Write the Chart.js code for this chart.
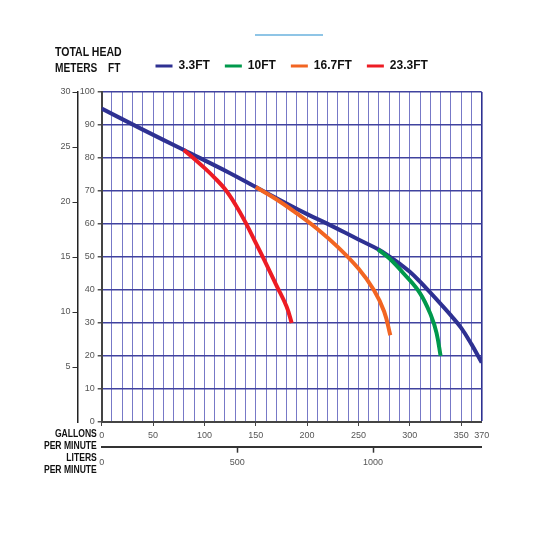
<!DOCTYPE html>
<html>
<head>
<meta charset="utf-8">
<script src="https://cdn.jsdelivr.net/npm/chart.js@4/dist/chart.umd.min.js"></script>
<style>
html,body{margin:0;padding:0;background:#fff;}
#wrap{position:relative;width:533px;height:533px;overflow:hidden;}
#c{position:absolute;left:0;top:0;}
.t{position:absolute;font-family:"Liberation Sans",Arial,sans-serif;font-weight:bold;color:#111;white-space:nowrap;}
.l{transform:scaleX(0.78);transform-origin:left top;}
.r{transform:scaleX(0.78);transform-origin:right top;}
</style>
</head>
<body>
<div id="wrap">
<canvas id="c" width="533" height="533"></canvas>
<div style="position:absolute;left:255px;top:34px;width:68px;height:1.5px;background:#8fc5e6"></div>
<div class="t l" style="left:55px;top:45px;font-size:13.5px;line-height:13px">TOTAL HEAD</div>
<div class="t l" style="left:55px;top:60.5px;font-size:13px;line-height:13px">METERS</div>
<div class="t l" style="left:107.5px;top:60.5px;font-size:13px;line-height:13px">FT</div>
<div class="t r" style="right:436.3px;top:427.2px;font-size:11px;line-height:12px;text-align:right">GALLONS<br>PER MINUTE<br>LITERS<br>PER MINUTE</div>
</div>
<script>
// ---- data ----
const SERIES_NAMES  = ['3.3FT', '10FT', '16.7FT', '23.3FT'];
const SERIES_COLORS = ['#2e3192', '#00994c', '#f26522', '#ed1c24'];

const GPM_3_3  = [0, 40, 80, 125, 150, 200, 219, 250, 270, 280, 290, 300, 310, 320, 330, 340, 350, 360, 370];
const FT_3_3   = [95, 88.6, 82.4, 75.4, 71.2, 63, 60.2, 55.3, 52.2, 50.2, 48, 45.5, 42.5, 39.2, 35.8, 32.3, 28.5, 23.6, 18];

const GPM_10   = [269, 280, 294, 310, 321, 326, 330];
const FT_10    = [52.3, 49.6, 45, 39, 32, 27, 20];

const GPM_16_7 = [150, 170, 190, 210, 230, 250, 265, 275, 281];
const FT_16_7  = [71.2, 67.5, 63.2, 58.5, 53, 46.5, 40, 33.5, 26.3];

const GPM_23_3 = [80, 90, 100, 110, 120, 130, 140, 150, 160, 170, 180, 185];
const FT_23_3  = [82.4, 79.8, 77, 74, 70.6, 66, 60.5, 54.3, 48, 41.5, 35, 30];

const GPM_LABELS    = [0, 50, 100, 150, 200, 250, 300, 350, 370];
const GPM_MAX       = 370;
const GPM_GRID_STEP = 10;
const LITER_TICKS   = [0, 500, 1000];
const LITERS_PER_GALLON = 3.78541;
const FT_TICKS      = [0, 10, 20, 30, 40, 50, 60, 70, 80, 90, 100];
const METER_TICKS   = [0, 5, 10, 15, 20, 25, 30];

// ---- chart ----
const FONT = '"Liberation Sans", Arial, sans-serif';
Chart.defaults.font.family = FONT;

const gpmGrid = [];
for (let v = 0; v <= GPM_MAX; v += GPM_GRID_STEP) gpmGrid.push(v);

const seriesX = [GPM_3_3, GPM_10, GPM_16_7, GPM_23_3];
const seriesY = [FT_3_3, FT_10, FT_16_7, FT_23_3];

const datasets = SERIES_NAMES.map((name, i) => ({
  label: name,
  data: seriesX[i].map((x, k) => ({x: x, y: seriesY[i][k]})),
  borderColor: SERIES_COLORS[i],
  backgroundColor: SERIES_COLORS[i],
  borderWidth: 4,
  pointRadius: 0,
  fill: false,
  tension: 0.4,
  borderCapStyle: 'butt',
  xAxisID: 'x',
  yAxisID: 'y',
  order: i === 0 ? 1 : 0
}));

const tickFont = {family: FONT, size: 9};
const tickColor = '#555';

new Chart(document.getElementById('c'), {
  type: 'line',
  data: {datasets: datasets},
  options: {
    responsive: false,
    animation: false,
    layout: {padding: {left: 0, right: 51.3, top: 45, bottom: 56.3}},
    plugins: {
      tooltip: {enabled: false},
      title: {display: false},
      subtitle: {display: true, text: ' ', position: 'top', weight: 900, padding: 0,
                 font: {size: 10, lineHeight: 1}},
      legend: {
        display: true, position: 'top', align: 'center', fullSize: false,
        labels: {
          boxWidth: 17, boxHeight: 3, padding: 15, color: '#111',
          font: {family: FONT, size: 12, weight: 'bold'},
          generateLabels: chart => chart.data.datasets.map((d, i) => ({
            text: d.label, fillStyle: d.borderColor, strokeStyle: d.borderColor,
            lineWidth: 0, hidden: false, datasetIndex: i, fontColor: '#111'
          }))
        }
      }
    },
    scales: {
      x: {
        type: 'linear', position: 'bottom', min: 0, max: GPM_MAX, weight: 0,
        afterBuildTicks: s => { s.ticks = gpmGrid.map(v => ({value: v})); },
        afterFit: s => { s.height = 24.7; },
        ticks: {
          autoSkip: false, maxRotation: 0, minRotation: 0, padding: 4,
          font: tickFont, color: tickColor,
          callback: v => GPM_LABELS.includes(v) ? String(v) : ''
        },
        grid: {
          drawOnChartArea: true, tickLength: 4,
          color: c => (c.tick && (c.tick.value === GPM_MAX)) ? '#2e3192' :
                      (c.tick && c.tick.value === 0) ? '#444' : 'rgba(85,88,185,0.8)',
          lineWidth: c => (c.tick && c.tick.value === GPM_MAX) ? 1.6 : 1,
          tickColor: c => (c.tick && GPM_LABELS.includes(c.tick.value) && c.tick.value !== GPM_MAX) ? '#444' : 'rgba(0,0,0,0)'
        },
        border: {display: true, color: '#444', width: 2}
      },
      x2: {
        type: 'linear', position: 'bottom', min: 0, max: GPM_MAX * LITERS_PER_GALLON, weight: 1,
        afterBuildTicks: s => { s.ticks = LITER_TICKS.map(v => ({value: v})); },
        afterFit: s => { s.height = 30; },
        ticks: {autoSkip: false, maxRotation: 0, minRotation: 0, padding: 4,
                font: tickFont, color: tickColor, callback: v => String(v)},
        grid: {drawOnChartArea: false, tickLength: 6,
               tickColor: c => (c.tick && c.tick.value === 0) ? 'rgba(0,0,0,0)' : '#333', tickWidth: 1.5},
        border: {display: true, color: '#333', width: 2}
      },
      y: {
        type: 'linear', position: 'left', min: 0, max: 100, weight: 0,
        afterBuildTicks: s => { s.ticks = FT_TICKS.map(v => ({value: v})); },
        afterFit: s => { s.width = 24.2; },
        ticks: {padding: 3, font: tickFont, color: tickColor, callback: v => String(v)},
        grid: {
          drawOnChartArea: true, tickLength: 4, tickColor: '#555',
          color: c => (c.tick && c.tick.value === 0) ? '#444' : '#40439e',
          lineWidth: 1.5
        },
        border: {display: true, color: '#444', width: 2}
      },
      y2: {
        type: 'linear', position: 'left', min: 0, max: 30, weight: 1,
        afterBuildTicks: s => { s.ticks = METER_TICKS.map(v => ({value: v})); },
        afterFit: s => { s.width = 77.5; },
        ticks: {padding: 2, font: tickFont, color: tickColor,
                callback: v => v === 0 ? '' : String(v)},
        grid: {drawOnChartArea: false, tickLength: 5,
               tickColor: c => (c.tick && c.tick.value === 0) ? 'rgba(0,0,0,0)' : '#333'},
        border: {display: true, color: '#222', width: 1.5}
      }
    }
  }
});
</script>
</body>
</html>
